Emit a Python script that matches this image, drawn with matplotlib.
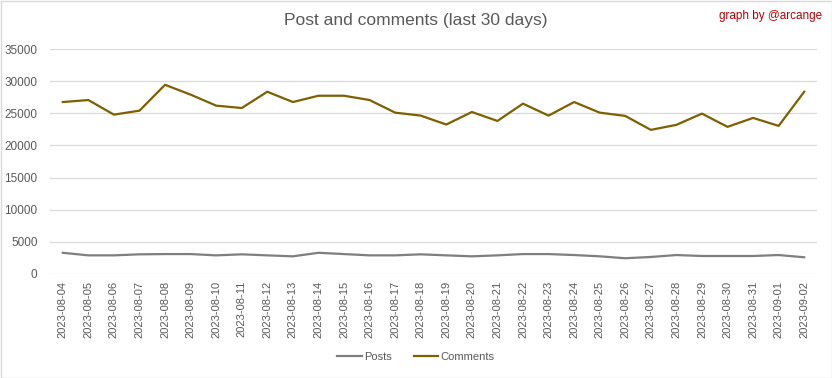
import matplotlib.pyplot as plt
from matplotlib.patches import Rectangle

plt.rcParams['font.family'] = ['Liberation Sans', 'DejaVu Sans']

# Data
dates = ['2023-08-04', '2023-08-05', '2023-08-06', '2023-08-07', '2023-08-08',
         '2023-08-09', '2023-08-10', '2023-08-11', '2023-08-12', '2023-08-13',
         '2023-08-14', '2023-08-15', '2023-08-16', '2023-08-17', '2023-08-18',
         '2023-08-19', '2023-08-20', '2023-08-21', '2023-08-22', '2023-08-23',
         '2023-08-24', '2023-08-25', '2023-08-26', '2023-08-27', '2023-08-28',
         '2023-08-29', '2023-08-30', '2023-08-31', '2023-09-01', '2023-09-02']
posts = [3300, 2900, 2900, 3060, 3100, 3100, 2900, 3060, 2900, 2750,
         3300, 3100, 2900, 2900, 3060, 2900, 2750, 2900, 3100, 3100,
         2950, 2750, 2450, 2650, 2950, 2800, 2800, 2800, 2950, 2600]
comments = [26750, 27060, 24790, 25410, 29430, 27900, 26190, 25820, 28350, 26750,
            27730, 27730, 27060, 25100, 24640, 23250, 25200, 23810, 26500, 24640,
            26750, 25100, 24590, 22420, 23200, 24950, 22890, 24280, 23040, 28350]
yticks = [0, 5000, 10000, 15000, 20000, 25000, 30000, 35000]

TXT = '#595959'

fig = plt.figure(figsize=(8.32, 3.78), dpi=100)
ax = fig.add_axes([50 / 832, 1 - 274 / 378, 767 / 832, 225 / 378])

x = range(len(dates))
ax.plot(x, posts, color='#7f7f7f', lw=1.6, label='Posts')
ax.plot(x, comments, color='#7f6000', lw=1.6, label='Comments')

ax.set_xlim(-0.5, len(dates) - 0.5)
ax.set_ylim(0, 35000)
ax.set_yticks(yticks)
ax.set_yticklabels([str(v) for v in yticks], fontsize=8.5, color=TXT)
ax.set_xticks(list(x))
ax.set_xticklabels(dates, rotation=90, fontsize=8, color=TXT)
ax.tick_params(axis='x', length=0, pad=5)
ax.tick_params(axis='y', length=0, pad=9)
ax.grid(axis='y', color='#d9d9d9', lw=0.9)
ax.set_axisbelow(True)
for s in ax.spines.values():
    s.set_visible(False)

fig.suptitle('Post and comments (last 30 days)', x=0.5, y=1 - 20 / 378, va='center',
             fontsize=12.5, color=TXT)
fig.text(822 / 832, 1 - 16 / 378, 'graph by @arcange', ha='right', va='center',
         fontsize=8.5, color='#c00000')

fig.legend(loc='center', bbox_to_anchor=(0.5, 1 - 357 / 378), ncol=2, frameon=False,
           fontsize=8, labelcolor=TXT, handlelength=2.2, columnspacing=2.0,
           handletextpad=0.2)

fig.add_artist(Rectangle((0.5 / 832, 0.5 / 378), 831 / 832, 377 / 378,
                         transform=fig.transFigure, fill=False, ec='#d9d9d9', lw=1))

fig.savefig('out.png', dpi=100)
